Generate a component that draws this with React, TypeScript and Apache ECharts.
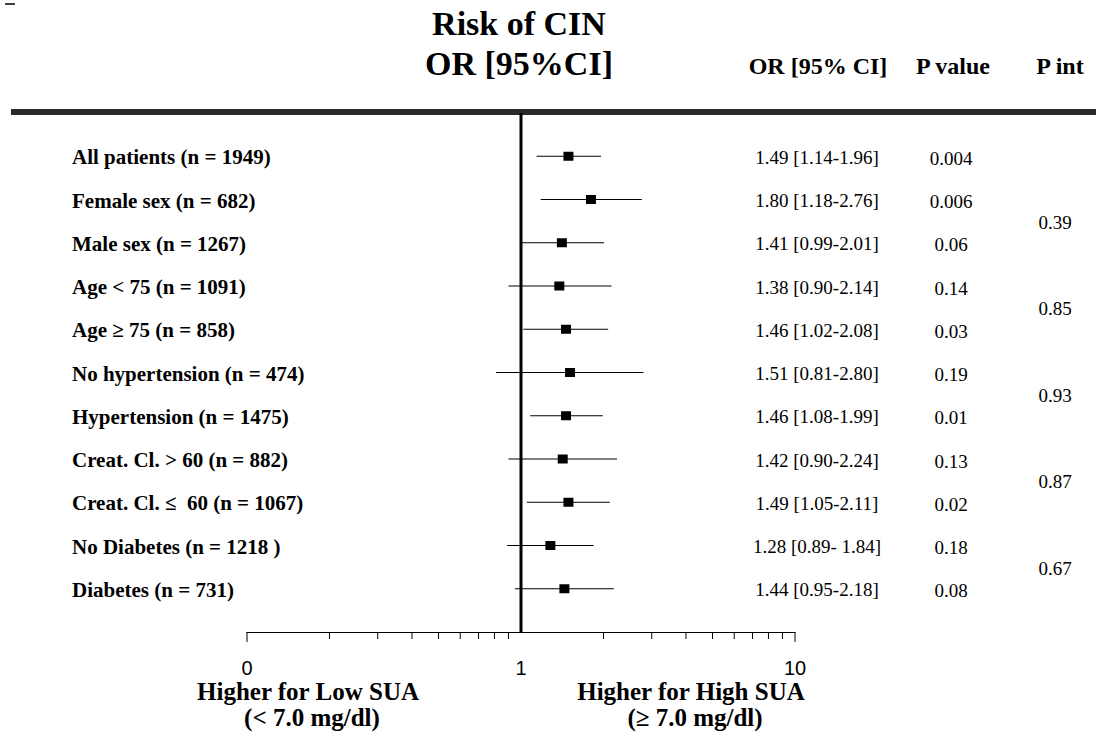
import React, { useEffect, useRef } from "react";
import * as echarts from "echarts";

const subgroups = [
  "All patients (n = 1949)",
  "Female sex (n = 682)",
  "Male sex (n = 1267)",
  "Age < 75 (n = 1091)",
  "Age ≥ 75 (n = 858)",
  "No hypertension (n = 474)",
  "Hypertension (n = 1475)",
  "Creat. Cl. > 60 (n = 882)",
  "Creat. Cl. ≤  60 (n = 1067)",
  "No Diabetes (n = 1218 )",
  "Diabetes (n = 731)",
];
const oddsRatios = [1.49, 1.8, 1.41, 1.38, 1.46, 1.51, 1.46, 1.42, 1.49, 1.28, 1.44];
const ciLower = [1.14, 1.18, 0.99, 0.9, 1.02, 0.81, 1.08, 0.9, 1.05, 0.89, 0.95];
const ciUpper = [1.96, 2.76, 2.01, 2.14, 2.08, 2.8, 1.99, 2.24, 2.11, 1.84, 2.18];
const ciLabels = [
  "1.49 [1.14-1.96]",
  "1.80 [1.18-2.76]",
  "1.41 [0.99-2.01]",
  "1.38 [0.90-2.14]",
  "1.46 [1.02-2.08]",
  "1.51 [0.81-2.80]",
  "1.46 [1.08-1.99]",
  "1.42 [0.90-2.24]",
  "1.49 [1.05-2.11]",
  "1.28 [0.89- 1.84]",
  "1.44 [0.95-2.18]",
];
const pValues = ["0.004", "0.006", "0.06", "0.14", "0.03", "0.19", "0.01", "0.13", "0.02", "0.18", "0.08"];
const pInteraction = ["0.39", "0.85", "0.93", "0.87", "0.67"];
const pInteractionRows = [1.5, 3.5, 5.5, 7.5, 9.5];
const majorTickValues = [0.1, 1, 10];
const majorTickLabels = ["0", "1", "10"];
const endTickValues = [0.1, 10];
const minorTickValues = [0.2, 0.3, 0.4, 0.5, 0.6, 0.7, 0.8, 0.9, 2, 3, 4, 5, 6, 7, 8, 9];

const SERIF = "Liberation Serif";
const SANS = "Liberation Sans";

const txt = (x: number, y: number, text: string, size: number, bold: boolean, align = "center") => ({
  type: "text",
  x,
  y,
  style: {
    text,
    fontFamily: SERIF,
    fontSize: size,
    fontWeight: bold ? "bold" : "normal",
    fill: "#000",
    align,
    verticalAlign: "middle",
  },
});

export default function App() {
  const ref = useRef<HTMLDivElement>(null);
  useEffect(() => {
    if (!ref.current) return;
    const chart = echarts.init(ref.current, undefined, { renderer: "svg" });
    const tickSeries = (name: string, values: number[], len: number) => ({
      type: "custom",
      name,
      silent: true,
      data: values.map((v) => [v, 11]),
      renderItem: (params: any, api: any) => {
        const p = api.coord([api.value(0), api.value(1)]);
        return {
          type: "line",
          shape: { x1: p[0], y1: p[1], x2: p[0], y2: p[1] + len },
          style: { stroke: "#000", lineWidth: 1 },
        };
      },
    });
    const option: any = {
      animation: false,
      backgroundColor: "#ffffff",
      grid: { left: 247, width: 548, top: 113, height: 519 },
      xAxis: {
        type: "log",
        logBase: 10,
        min: 0.1,
        max: 10,
        axisLine: { show: true, onZero: false, lineStyle: { color: "#000", width: 1 } },
        axisTick: { show: false },
        splitLine: { show: false },
        axisLabel: {
          margin: 26,
          color: "#000",
          fontFamily: SANS,
          fontSize: 20,
          formatter: (v: number) => {
            const idx = majorTickValues.findIndex((t) => Math.abs(Math.log10(t) - Math.log10(v)) < 1e-6);
            return idx >= 0 ? majorTickLabels[idx] : "";
          },
        },
      },
      yAxis: { type: "value", inverse: true, min: -1, max: 11, show: false },
      graphic: [
        { type: "line", shape: { x1: 5, y1: 4, x2: 15, y2: 4 }, style: { stroke: "#000", lineWidth: 1.5 } },
        { type: "rect", shape: { x: 11, y: 109, width: 1085, height: 6 }, style: { fill: "#2a2a2a" } },
        txt(519, 23, "Risk of CIN", 34, true),
        txt(519, 63, "OR [95%CI]", 34, true),
        txt(818, 66, "OR [95% CI]", 24, true),
        txt(953, 66, "P value", 24, true),
        txt(1060, 66, "P int", 24, true),
        txt(308, 691, "Higher for Low SUA", 25, true),
        txt(312, 717, "(< 7.0 mg/dl)", 25, true),
        txt(691, 691, "Higher for High SUA", 25, true),
        txt(695, 717, "(≥ 7.0 mg/dl)", 25, true),
      ],
      series: [
        {
          type: "custom",
          name: "reference",
          silent: true,
          data: [[1]],
          renderItem: (params: any, api: any) => {
            const top = api.coord([1, -1]);
            const bottom = api.coord([1, 11]);
            return {
              type: "line",
              shape: { x1: top[0], y1: top[1], x2: bottom[0], y2: bottom[1] },
              style: { stroke: "#000", lineWidth: 3 },
            };
          },
        },
        tickSeries("minorTicks", minorTickValues, 7),
        tickSeries("endTicks", endTickValues, 10),
        {
          type: "custom",
          name: "forest",
          silent: true,
          encode: { x: [0, 1, 2], y: 3 },
          data: oddsRatios.map((or, i) => [or, ciLower[i], ciUpper[i], i]),
          renderItem: (params: any, api: any) => {
            const row = api.value(3);
            const c = api.coord([api.value(0), row]);
            const lo = api.coord([api.value(1), row]);
            const hi = api.coord([api.value(2), row]);
            return {
              type: "group",
              children: [
                { type: "line", shape: { x1: lo[0], y1: lo[1], x2: hi[0], y2: hi[1] }, style: { stroke: "#000", lineWidth: 1 } },
                { type: "rect", shape: { x: c[0] - 5, y: c[1] - 4.5, width: 10, height: 9 }, style: { fill: "#000" } },
              ],
            };
          },
        },
        {
          type: "custom",
          name: "rowText",
          silent: true,
          data: subgroups.map((s, i) => [1, i]),
          renderItem: (params: any, api: any) => {
            const i = params.dataIndex;
            const y = api.coord([1, api.value(1)])[1] + 1;
            return {
              type: "group",
              children: [
                txt(72, y, subgroups[i], 21, true, "left"),
                txt(817, y, ciLabels[i], 19, false),
                txt(951, y + 1, pValues[i], 19, false),
              ],
            };
          },
        },
        {
          type: "custom",
          name: "pInt",
          silent: true,
          data: pInteraction.map((p, k) => [1, pInteractionRows[k]]),
          renderItem: (params: any, api: any) => {
            const y = api.coord([1, api.value(1)])[1] + 1;
            return txt(1055, y, pInteraction[params.dataIndex], 19, false);
          },
        },
      ],
    };
    chart.setOption(option);
    return () => chart.dispose();
  }, []);
  return (
    <div
      ref={ref}
      style={{ position: "fixed", left: 0, top: 0, width: 1096, height: 733, background: "#fff" }}
    />
  );
}
